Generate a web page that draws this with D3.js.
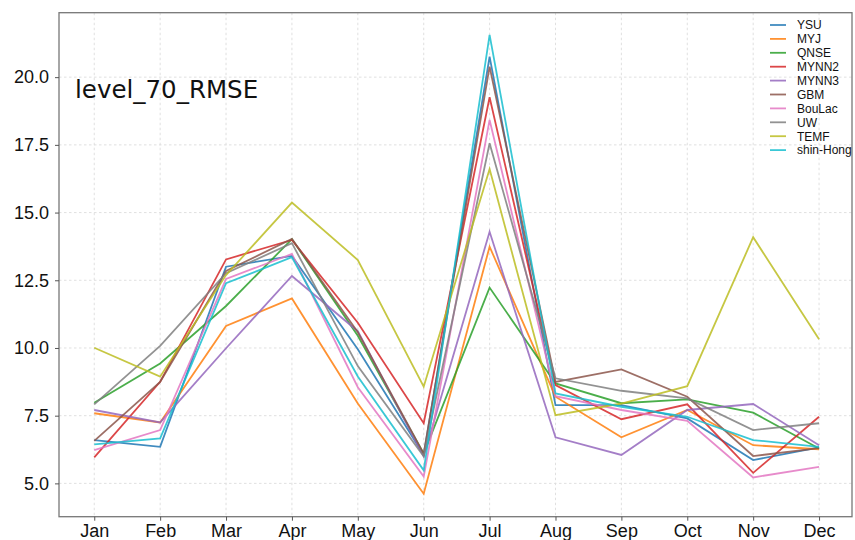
<!DOCTYPE html>
<html>
<head>
<meta charset="utf-8">
<script src="https://cdn.jsdelivr.net/npm/d3@7"></script>
<style>
  html, body { margin: 0; padding: 0; background: #fff; }
  svg { display: block; }
</style>
</head>
<body>
<svg id="chart" width="855" height="540"></svg>
<script>
// Monthly RMSE at model level 70 for ten PBL schemes
const months = ["Jan", "Feb", "Mar", "Apr", "May", "Jun", "Jul", "Aug", "Sep", "Oct", "Nov", "Dec"];
const yTicks = [5.0, 7.5, 10.0, 12.5, 15.0, 17.5, 20.0];
const schemes = ["YSU", "MYJ", "QNSE", "MYNN2", "MYNN3", "GBM", "BouLac", "UW", "TEMF", "shin-Hong"];

const YSU      = [6.60, 6.35, 13.00, 13.40, 9.95, 6.05, 20.76, 7.89, 7.89, 7.40, 5.86, 6.33];
const MYJ      = [7.59, 7.25, 10.81, 11.83, 7.95, 4.62, 13.74, 8.20, 6.70, 7.71, 6.41, 6.26];
const QNSE     = [7.98, 9.43, 11.55, 14.02, 10.45, 6.10, 12.23, 8.69, 7.96, 8.10, 7.61, 6.29];
const MYNN2    = [5.96, 8.75, 13.27, 13.99, 10.93, 7.22, 19.26, 8.63, 7.37, 7.92, 5.39, 7.46];
const MYNN3    = [7.71, 7.25, 9.99, 12.66, 10.62, 6.00, 14.29, 6.70, 6.05, 7.71, 7.93, 6.41];
const GBM      = [6.57, 8.75, 12.84, 14.03, 10.58, 6.10, 20.39, 8.75, 9.21, 8.20, 6.01, 6.30];
const BouLac   = [6.23, 6.97, 12.55, 13.47, 8.55, 5.25, 18.42, 8.22, 7.71, 7.31, 5.22, 5.61];
const UW       = [7.92, 10.08, 12.76, 13.87, 9.33, 6.00, 17.56, 8.88, 8.42, 8.14, 6.97, 7.22];
const TEMF     = [10.01, 8.94, 12.69, 15.37, 13.25, 8.57, 16.61, 7.52, 7.95, 8.59, 14.09, 10.32];
const shinHong = [6.44, 6.66, 12.39, 13.35, 8.95, 5.48, 21.56, 8.32, 7.83, 7.46, 6.60, 6.35];

const seriesValues = [YSU, MYJ, QNSE, MYNN2, MYNN3, GBM, BouLac, UW, TEMF, shinHong];
const palette = ["#1f77b4", "#ff7f0e", "#2ca02c", "#d62728", "#9467bd",
                 "#8c564b", "#e377c2", "#7f7f7f", "#bcbd22", "#17becf"];

const svg = d3.select("#chart");
const plot = { left: 59, right: 852, top: 12.7, bottom: 516.7 };

const x = d3.scaleLinear().domain([-0.535, 11.5]).range([plot.left, plot.right]);
const y = d3.scaleLinear().domain([3.77, 22.38]).range([plot.bottom, plot.top]);

// grid
const grid = svg.append("g").attr("stroke", "#dcdcdc").attr("stroke-width", 0.9)
  .attr("stroke-dasharray", "2.5,2.5");
grid.selectAll("line.gx").data(months).join("line")
  .attr("x1", (d, i) => x(i)).attr("x2", (d, i) => x(i))
  .attr("y1", plot.top).attr("y2", plot.bottom);
grid.selectAll("line.gy").data(yTicks).join("line")
  .attr("x1", plot.left).attr("x2", plot.right)
  .attr("y1", d => y(d)).attr("y2", d => y(d));

// series
const line = d3.line().x((d, i) => x(i)).y(d => y(d));
svg.append("g").selectAll("path").data(seriesValues).join("path")
  .attr("d", line)
  .attr("fill", "none")
  .attr("stroke", (d, i) => palette[i])
  .attr("stroke-opacity", 0.85)
  .attr("stroke-width", 1.8)
  .attr("stroke-linejoin", "miter");

// frame
svg.append("rect")
  .attr("x", plot.left).attr("y", plot.top)
  .attr("width", plot.right - plot.left).attr("height", plot.bottom - plot.top)
  .attr("fill", "none").attr("stroke", "#777").attr("stroke-width", 1.3);

// axes
const yAxis = d3.axisLeft(y).tickValues(yTicks).tickFormat(d3.format(".1f"))
  .tickSize(4).tickPadding(6);
const gy = svg.append("g").attr("transform", `translate(${plot.left},0)`).call(yAxis);
gy.select(".domain").remove();
gy.selectAll("line").attr("stroke", "#555");
gy.selectAll("text").attr("font-family", "Liberation Sans, Arial, sans-serif")
  .attr("font-size", 18).attr("fill", "#111");

const xAxis = d3.axisBottom(x).tickValues(d3.range(months.length))
  .tickFormat(i => months[i]).tickSize(4).tickPadding(4);
const gx = svg.append("g").attr("transform", `translate(0,${plot.bottom})`).call(xAxis);
gx.select(".domain").remove();
gx.selectAll("line").attr("stroke", "#555");
gx.selectAll("text").attr("font-family", "Liberation Sans, Arial, sans-serif")
  .attr("font-size", 18).attr("fill", "#111");

// title inside the axes
svg.append("text")
  .attr("x", 75).attr("y", 98)
  .attr("font-family", "DejaVu Sans, sans-serif")
  .attr("font-size", 24.5)
  .attr("fill", "#111")
  .text("level_70_RMSE");

// legend
const legend = svg.append("g").attr("transform", "translate(770,25)");
const item = legend.selectAll("g").data(schemes).join("g")
  .attr("transform", (d, i) => `translate(0,${i * 13.9})`);
item.append("line").attr("x1", 0).attr("x2", 16).attr("y1", 0).attr("y2", 0)
  .attr("stroke", (d, i) => palette[i]).attr("stroke-opacity", 0.85).attr("stroke-width", 1.8);
item.append("text").attr("x", 27).attr("y", 4.3)
  .attr("font-family", "Liberation Sans, Arial, sans-serif")
  .attr("font-size", 12).attr("fill", "#111")
  .text(d => d);
</script>
</body>
</html>
